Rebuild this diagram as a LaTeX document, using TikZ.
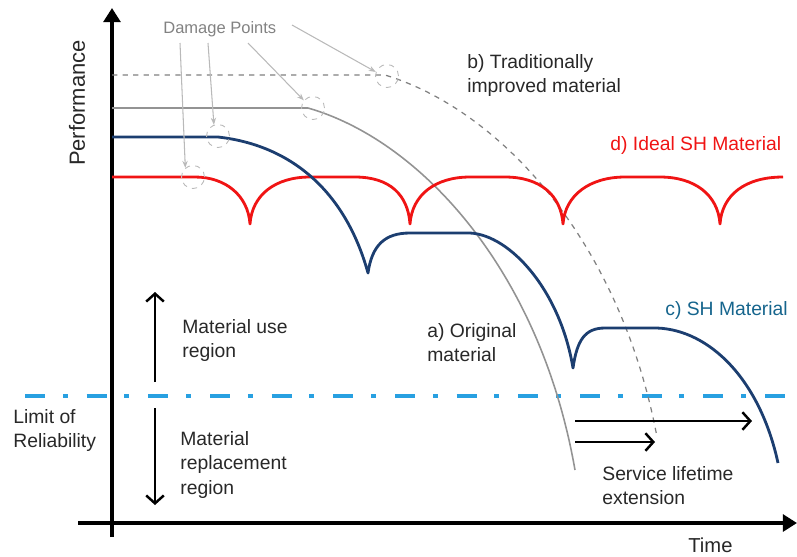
\documentclass[tikz,border=0pt]{standalone}
\usepackage{fontspec}
\setmainfont{Liberation Sans}
\usetikzlibrary{arrows.meta, positioning}

\definecolor{shblue}{RGB}{28,62,112}
\definecolor{shred}{RGB}{240,20,20}
\definecolor{limitblue}{RGB}{40,160,225}
\definecolor{labelgray}{RGB}{40,40,40}
\definecolor{dmggray}{RGB}{130,130,130}

\begin{document}
\begin{tikzpicture}[x=0.02cm, y=-0.02cm,
  axis/.style={line width=2.3pt, -{Triangle[length=8pt,width=9.5pt]}},
  lbl/.style={anchor=north west, inner sep=0pt, align=left, text=labelgray,
    font=\fontsize{11}{14}\selectfont},
  dmg/.style={circle, draw=gray!55, dashed, line width=0.5pt, minimum size=0.46cm, inner sep=0pt},
  leader/.style={draw=gray!55, line width=0.6pt, -{Stealth[length=4pt,width=3pt]}},
  region/.style={line width=1.4pt, -{Straight Barb[length=4.5pt,width=10pt]}},
  curve/.style={line width=1.6pt, line join=round}]
  \useasboundingbox (0,0) rectangle (797,556);

  % 軸
  \coordinate (ybot) at (112,537);
  \coordinate (ytop) at (112,8);
  \coordinate (xleft) at (78,523);
  \coordinate (xright) at (797,523);
  \draw[axis] (ybot) -- (ytop);
  \draw[axis] (xleft) -- (xright);
  \node[rotate=90, text=labelgray, font=\fontsize{12.5}{15}\selectfont] (perf) at (77,103) {Performance};
  \node[lbl, font=\fontsize{11.5}{14}\selectfont] (time) at (688,537) {Time};

  % 信頼性の限界
  \coordinate (limL) at (25,396);
  \coordinate (limR) at (797,396);
  \draw[limitblue, line width=2.2pt, dash pattern=on 11.3pt off 10.2pt on 2.8pt off 10.8pt] (limL) -- (limR);
  \node[lbl] (limit) at (13,409) {Limit of\\Reliability};

  % b) 従来の改良材料
  \draw[gray, line width=0.7pt, dashed] (112,75) -- (385,75)
    .. controls (500,110) and (620,240) .. (657,437);
  % a) 元の材料
  \draw[gray!85, line width=0.9pt] (112,108) -- (308,108)
    .. controls (420,140) and (540,270) .. (575,470);
  % d) 理想的な自己修復材料
  \draw[curve, shred] (112,177) -- (195,177)
    .. controls (225,177) and (248,195) .. (250,224)
    .. controls (252,195) and (275,177) .. (310,177) -- (355,177)
    .. controls (390,177) and (408,195) .. (410,224)
    .. controls (412,195) and (435,177) .. (470,177) -- (505,177)
    .. controls (540,177) and (561,195) .. (563,224)
    .. controls (565,195) and (590,177) .. (625,177) -- (660,177)
    .. controls (695,177) and (718,195) .. (720,224)
    .. controls (722,195) and (745,177) .. (783,177);
  % c) 自己修復材料
  \draw[curve, shblue] (112,137) -- (218,137)
    .. controls (290,145) and (345,190) .. (368,273)
    .. controls (372,245) and (385,233) .. (410,233) -- (470,233)
    .. controls (510,235) and (560,290) .. (573,368)
    .. controls (577,340) and (585,328) .. (605,328) -- (657,328)
    .. controls (710,330) and (760,380) .. (778,463);

  % 損傷点
  \node[text=dmggray, anchor=north west, inner sep=0pt, font=\fontsize{9.4}{11}\selectfont] (dmglbl) at (163,21) {Damage Points};
  \node[dmg] (dp1) at (193,177) {};
  \node[dmg] (dp2) at (218,136) {};
  \node[dmg] (dp3) at (313,108) {};
  \node[dmg] (dp4) at (387,76) {};
  \coordinate (s1) at (180,43);
  \coordinate (s2) at (208,43);
  \coordinate (s3) at (248,43);
  \coordinate (s4) at (292,25);
  \draw[leader] (s1) -- (dp1.130);
  \draw[leader] (s2) -- (dp2.110);
  \draw[leader] (s3) -- (dp3.140);
  \draw[leader] (s4) -- (dp4.160);

  % ラベル
  \node[lbl] (lblB) at (467,54) {b) Traditionally\\improved material};
  \node[lbl, text=shred] (lblD) at (610,136) {d) Ideal SH Material};
  \node[lbl, text=shblue!80!cyan] (lblC) at (665,301) {c) SH Material};
  \node[lbl] (lblA) at (427,323) {a) Original\\material};

  % 使用領域と交換領域
  \coordinate (useS) at (155,382);
  \coordinate (useE) at (155,292);
  \coordinate (repS) at (155,408);
  \coordinate (repE) at (155,505);
  \draw[region] (useS) -- (useE);
  \draw[region] (repS) -- (repE);
  \node[lbl] (use) at (182,319) {Material use\\region};
  \node[lbl] (repl) at (180,431) {Material\\replacement\\region};

  % 寿命の延長
  \coordinate (extS1) at (575,421);
  \coordinate (extE1) at (752,421);
  \coordinate (extS2) at (575,442);
  \coordinate (extE2) at (655,442);
  \draw[region] (extS1) -- (extE1);
  \draw[region] (extS2) -- (extE2);
  \node[lbl] (ext) at (602,466) {Service lifetime\\extension};
\end{tikzpicture}
\end{document}
